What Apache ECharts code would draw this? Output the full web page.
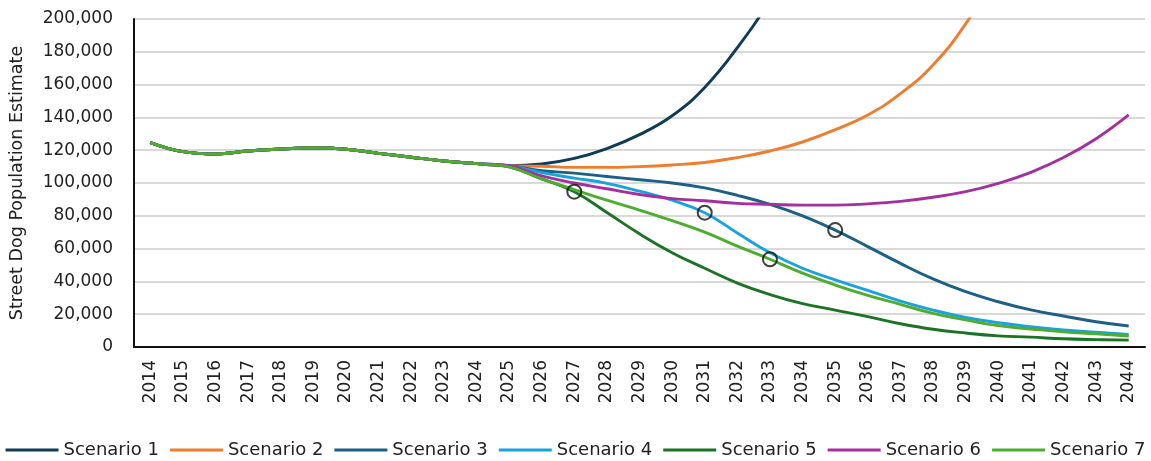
<!DOCTYPE html>
<html>
<head>
<meta charset="utf-8">
<script src="https://cdn.jsdelivr.net/npm/echarts@6/dist/echarts.min.js"></script>
<style>
  html, body { margin: 0; padding: 0; background: #fff; }
  #dog_charts { width: 1151px; height: 461px; }
</style>
</head>
<body>
<div id="dog_charts"></div>
<script>
// 年份
var years = ['2014', '2015', '2016', '2017', '2018', '2019', '2020', '2021', '2022', '2023', '2024',
  '2025', '2026', '2027', '2028', '2029', '2030', '2031', '2032', '2033', '2034',
  '2035', '2036', '2037', '2038', '2039', '2040', '2041', '2042', '2043', '2044']

// 2014-2024 共同的历史数据
var pastValues = [124600, 119100, 117700, 119500, 120700, 121500, 120600, 118100, 115700, 113400, 111800]

// 2025-2044 各情景
var scenario1 = [110500, 111600, 115000, 121000, 129500, 141000, 158300, 182500, 212000, 250000,
  null, null, null, null, null, null, null, null, null, null]
var scenario2 = [110500, 110200, 109500, 109500, 110000, 111000, 112500, 115500, 119500, 125000,
  132500, 141500, 154500, 172000, 197000, 230000, null, null, null, null]
var scenario3 = [110500, 107500, 106000, 104000, 102000, 100000, 97000, 92500, 87000, 80000,
  71300, 61200, 51000, 41500, 33700, 27600, 22600, 18900, 15400, 12800]
var scenario4 = [110500, 106300, 103000, 99800, 95000, 89500, 81900, 69500, 57500, 48000,
  41000, 34500, 28000, 22500, 18000, 14800, 12400, 10400, 9000, 7700]
var scenario5 = [109800, 102500, 94700, 82000, 69000, 57500, 48000, 39000, 32000, 26500,
  22500, 18500, 14200, 10800, 8500, 6800, 6000, 5000, 4500, 4200]
var scenario6 = [110500, 104300, 100000, 96500, 93000, 90500, 89200, 87600, 87000, 86500,
  86500, 87300, 88800, 91300, 94700, 99800, 106500, 115500, 127000, 141500]
var scenario7 = [109800, 102500, 96000, 89500, 83500, 77000, 70000, 61500, 53500, 45000,
  37800, 31500, 26000, 20500, 16500, 13000, 11000, 9200, 8000, 6700]

var seriesNames = ['Scenario 1', 'Scenario 2', 'Scenario 3', 'Scenario 4', 'Scenario 5', 'Scenario 6', 'Scenario 7']
var seriesColors = ['#0f3b53', '#ee7d31', '#1d5f85', '#1aa2dc', '#1c7325', '#a3309d', '#4ead30']

// 圆圈标记：情景序号 + 年份
var markerScenario = [5, 4, 7, 3]
var markerYears = ['2027', '2031', '2033', '2035']

var yTicks = { min: 0, max: 200000, interval: 20000 }

var FONT = 'DejaVu Sans'

function initChart () {
  var container = document.querySelector('#dog_charts')
  var myChart = echarts.init(container)

  var allData = [scenario1, scenario2, scenario3, scenario4, scenario5, scenario6, scenario7]
    .map(function (s) { return pastValues.concat(s) })

  var series = allData.map(function (d, i) {
    return {
      name: seriesNames[i],
      type: 'line',
      smooth: 0.45,
      showSymbol: false,
      symbol: 'none',
      lineStyle: { color: seriesColors[i], width: 2.9 },
      itemStyle: { color: seriesColors[i] },
      data: d
    }
  })

  // 圆圈
  var markerData = markerYears.map(function (y, k) {
    var idx = years.indexOf(y)
    return [y, allData[markerScenario[k] - 1][idx]]
  })
  series.push({
    name: 'markers',
    type: 'scatter',
    symbol: 'circle',
    symbolSize: 14,
    z: 5,
    itemStyle: { color: 'rgba(0,0,0,0)', borderColor: '#111', borderWidth: 2 },
    data: markerData
  })

  var option = {
    animation: false,
    grid: { left: 133, right: 6, top: 19, bottom: 114 },
    legend: {
      data: seriesNames,
      bottom: -3,
      left: 'center',
      icon: 'rect',
      itemWidth: 53,
      itemHeight: 3,
      itemGap: 11,
      textStyle: { fontFamily: FONT, fontSize: 18, color: '#222' }
    },
    xAxis: {
      type: 'category',
      data: years,
      boundaryGap: true,
      axisLine: { lineStyle: { color: '#111', width: 2 } },
      axisTick: { show: false },
      splitLine: { show: false },
      axisLabel: {
        rotate: 90,
        margin: 13,
        interval: 0,
        fontFamily: FONT,
        fontSize: 17,
        color: '#222'
      }
    },
    yAxis: {
      type: 'value',
      min: yTicks.min,
      max: yTicks.max,
      interval: yTicks.interval,
      name: 'Street Dog Population Estimate',
      nameLocation: 'middle',
      nameGap: 108,
      nameTextStyle: { fontFamily: FONT, fontSize: 17.5, color: '#222' },
      axisLine: { show: true, lineStyle: { color: '#111', width: 2 } },
      axisTick: { show: false },
      splitLine: { show: true, lineStyle: { color: '#d9d9d9', width: 2 } },
      axisLabel: {
        margin: 21,
        fontFamily: FONT,
        fontSize: 17,
        color: '#222',
        formatter: function (v) { return v.toLocaleString('en-US') }
      }
    },
    series: series
  }
  myChart.setOption(option)
}

initChart()
</script>
</body>
</html>
